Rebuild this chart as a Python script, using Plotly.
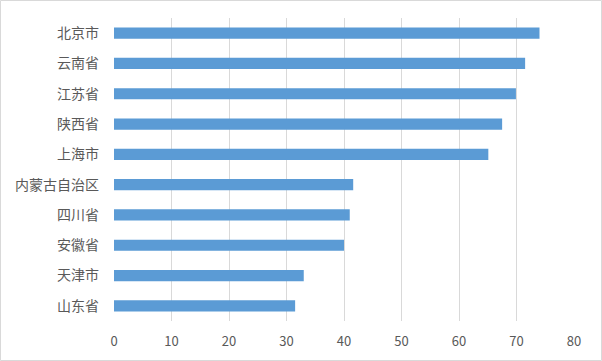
import plotly.graph_objects as go

categories = ["北京市", "云南省", "江苏省", "陕西省", "上海市", "内蒙古自治区", "四川省", "安徽省", "天津市", "山东省"]
values = [74.0, 71.5, 69.9, 67.5, 65.1, 41.6, 41.0, 40.0, 33.0, 31.5]
x_ticks = [0, 10, 20, 30, 40, 50, 60, 70, 80]

W, H = 602, 361
L, R, T, B = 114, 28, 18, 40
pw = W - L - R
ph = H - T - B

fig = go.Figure(go.Bar(
    x=values, y=categories, orientation="h",
    marker=dict(color="#5b9bd5", line=dict(width=0)),
    width=0.37,
))

fig.update_layout(
    width=W, height=H,
    margin=dict(l=L, r=R, t=T, b=B, pad=0, autoexpand=False),
    paper_bgcolor="white", plot_bgcolor="white",
    showlegend=False,
    font=dict(family="Noto Sans CJK SC, Microsoft YaHei, sans-serif", color="#595959"),
    xaxis=dict(
        range=[0, 80], tickvals=x_ticks, showgrid=True, gridcolor="#d9d9d9", gridwidth=1,
        zeroline=False, showline=False, ticks="", tickfont=dict(size=13, color="#595959"),
        ticklabelstandoff=11, fixedrange=True, automargin=False,
    ),
    yaxis=dict(
        autorange="reversed", showgrid=False, zeroline=False, showline=False, ticks="",
        tickfont=dict(size=14, color="#595959"), ticklabelstandoff=14, automargin=False,
    ),
    shapes=[dict(
        type="rect", xref="paper", yref="paper",
        x0=(0.5 - L) / pw, x1=(W - 0.5 - L) / pw,
        y0=(H - B - (H - 0.5)) / ph, y1=(H - B - 0.5) / ph,
        line=dict(color="#d9d9d9", width=1), fillcolor="rgba(0,0,0,0)", layer="below",
    )],
)

fig.write_html(
    "out.html",
    config={"displayModeBar": False},
    post_script="document.body.style.margin='0';document.body.style.overflow='hidden';",
)
